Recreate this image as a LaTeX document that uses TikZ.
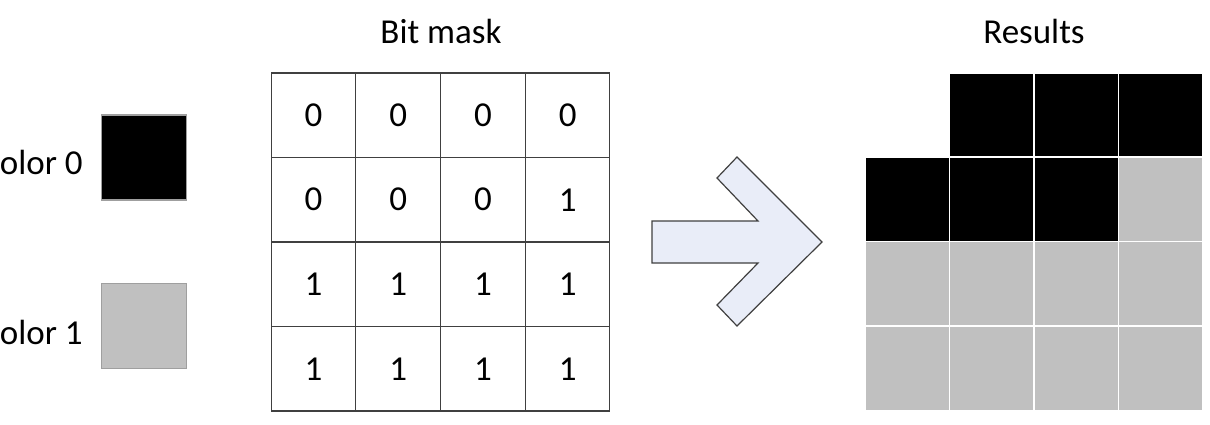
\documentclass[tikz,border=0pt]{standalone}
\usepackage{fontspec}
\setmainfont{Carlito}
\usetikzlibrary{positioning}
\definecolor{swatchgray}{HTML}{C0C0C0}
\definecolor{arrowfill}{HTML}{E9EDF8}
\definecolor{edgegray}{HTML}{404040}

\begin{document}
\begin{tikzpicture}[x=1pt,y=-1pt,
  cell/.style={draw=edgegray, line width=1.2pt, minimum size=84.5pt, inner sep=0pt, font=\fontsize{35}{42}\selectfont},
  pix/.style={draw=white, line width=1.5pt, minimum size=84.5pt, inner sep=0pt},
  swatch/.style={draw=gray!75, line width=1.2pt, minimum size=85pt, inner sep=0pt},
  lbl/.style={font=\fontsize{35}{42}\selectfont}]
  \clip (0,0) rectangle (1210,424);
  % Legend swatches
  \node[swatch, fill=black] (c0) at (144,157.5) {};
  \node[swatch, fill=swatchgray] (c1) at (144,326) {};
  \node[lbl, left=18pt of c0, yshift=-5pt, inner sep=0pt] (c0-lbl) {olor 0};
  \node[lbl, left=18pt of c1, yshift=-6pt, inner sep=0pt] (c1-lbl) {olor 1};
  % Bit mask grid
  \foreach \r/\bits in {1/{0,0,0,0},2/{0,0,0,1},3/{1,1,1,1},4/{1,1,1,1}} {
    \foreach \b [count=\c] in \bits {
      \node[cell] (m-\r-\c) at ({271+84.75*(\c-0.5)},{73+84.5*(\r-0.5)}) {\b};
    }
  }
  \node[lbl] (mask-title) at (441,31) {Bit mask};
  % Block arrow
  \draw[edgegray, fill=arrowfill, line width=1.2pt, line join=miter]
    (652,221) -- (758,221) -- (717,178) -- (737,157) -- (822,242)
    -- (737,326) -- (717,305) -- (758,263) -- (652,263) -- cycle;
  % Result pixels
  \foreach \r/\cols in {1/{white,black,black,black},2/{black,black,black,swatchgray},
                        3/{swatchgray,swatchgray,swatchgray,swatchgray},4/{swatchgray,swatchgray,swatchgray,swatchgray}} {
    \foreach \col [count=\c] in \cols {
      \node[pix, fill=\col] (p-\r-\c) at ({865+84.5*(\c-0.5)},{73+84.3*(\r-0.5)}) {};
    }
  }
  \node[lbl] (res-title) at (1034,31) {Results};
\end{tikzpicture}
\end{document}
